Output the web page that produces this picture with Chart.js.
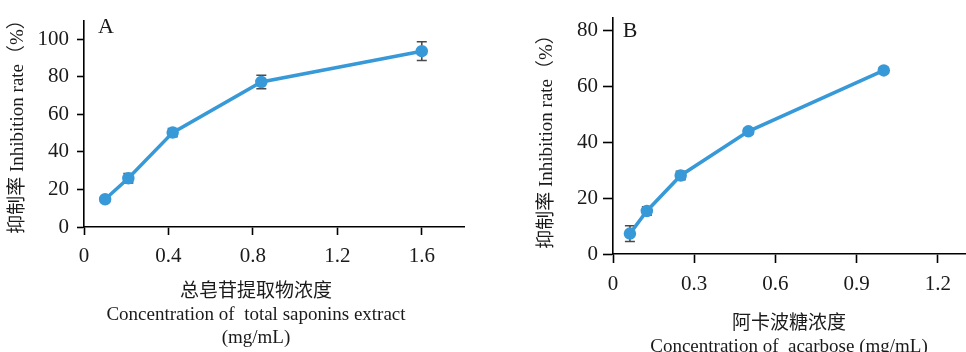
<!DOCTYPE html>
<html>
<head>
<meta charset="utf-8">
<script src="https://cdn.jsdelivr.net/npm/chart.js@4.4.0/dist/chart.umd.min.js"></script>
<style>
  html, body { margin: 0; padding: 0; background: #fff; overflow: hidden; }
  body { width: 966px; height: 352px; position: relative; }
  .panel { position: absolute; top: 0; }
  #wrapA { left: 0; width: 480px; height: 352px; }
  #wrapB { left: 483px; width: 490px; height: 380px; }
</style>
</head>
<body>
<div class="panel" id="wrapA"><canvas id="chartA"></canvas></div>
<div class="panel" id="wrapB"><canvas id="chartB"></canvas></div>
<script>
// Panel A - total saponins extract
const concA = [0.1, 0.21, 0.42, 0.84, 1.6];
const rateA = [14.8, 26, 50.3, 77.3, 93.7];
const errA = [1, 2.5, 2.2, 3.6, 5];
const xTicksA = [0, 0.4, 0.8, 1.2, 1.6];
const yTicksA = [0, 20, 40, 60, 80, 100];

// Panel B - acarbose
const concB = [0.0625, 0.125, 0.25, 0.5, 1.0];
const rateB = [7.3, 15.4, 28.1, 43.9, 65.7];
const errB = [2.8, 1.5, 1.5, 1, 1];
const xTicksB = [0, 0.3, 0.6, 0.9, 1.2];
const yTicksB = [0, 20, 40, 60, 80];

const blue = '#3799d8';
const serif = "'Liberation Serif', 'Noto Sans CJK SC', serif";

// error bars drawn through the chart's scales
const errorBars = {
  id: 'errorBars',
  beforeDatasetsDraw(chart, args, opts) {
    const ctx = chart.ctx;
    const xs = chart.scales.x, ys = chart.scales.y;
    const ds = chart.data.datasets[0];
    ctx.save();
    ctx.strokeStyle = '#4a4a4a';
    ctx.lineWidth = 1.6;
    ds.data.forEach((p, i) => {
      const e = opts.errors[i];
      const x = xs.getPixelForValue(p.x);
      const y1 = ys.getPixelForValue(p.y + e);
      const y2 = ys.getPixelForValue(p.y - e);
      ctx.beginPath();
      ctx.moveTo(x, y1); ctx.lineTo(x, y2);
      ctx.moveTo(x - 5, y1); ctx.lineTo(x + 5, y1);
      ctx.moveTo(x - 5, y2); ctx.lineTo(x + 5, y2);
      ctx.stroke();
    });
    ctx.restore();
  }
};

// panel letter and axis titles
const textLabels = {
  id: 'textLabels',
  afterDraw(chart, args, opts) {
    const ctx = chart.ctx;
    ctx.save();
    ctx.fillStyle = '#1a1a1a';
    ctx.textBaseline = 'middle';
    ctx.textAlign = 'center';
    opts.items.forEach(t => {
      ctx.save();
      ctx.font = (t.size || 19) + 'px ' + serif;
      ctx.translate(t.x, t.y);
      if (t.rotate) ctx.rotate(t.rotate);
      ctx.fillText(t.text, 0, 0);
      ctx.restore();
    });
    ctx.restore();
  }
};

function makeChart(id, cfg) {
  const points = cfg.conc.map((c, i) => ({ x: c, y: cfg.rate[i] }));
  return new Chart(document.getElementById(id), {
    type: 'line',
    data: {
      datasets: [{
        data: points,
        borderColor: blue,
        backgroundColor: blue,
        borderWidth: 3.5,
        pointRadius: 4.5,
        pointHoverRadius: 4.5,
        tension: 0
      }]
    },
    options: {
      responsive: true,
      maintainAspectRatio: false,
      animation: false,
      events: [],
      layout: { padding: cfg.padding },
      plugins: {
        legend: { display: false },
        tooltip: { enabled: false },
        errorBars: { errors: cfg.err },
        textLabels: { items: cfg.texts }
      },
      scales: {
        x: {
          type: 'linear',
          min: 0,
          max: cfg.xMax,
          afterBuildTicks: s => { s.ticks = cfg.xTicks.map(v => ({ value: v })); },
          afterFit: s => { s.height = cfg.xHeight; },
          border: { display: true, color: '#000', width: 1.6 },
          grid: { drawOnChartArea: false, drawTicks: true, tickLength: cfg.tickX, tickColor: '#000', tickWidth: 1.6 },
          ticks: {
            color: '#1a1a1a',
            padding: 9,
            maxRotation: 0,
            font: { family: serif, size: 21 },
            callback: v => String(v)
          }
        },
        y: {
          min: 0,
          max: cfg.yMax,
          afterBuildTicks: s => { s.ticks = cfg.yTicks.map(v => ({ value: v })); },
          afterFit: s => { s.width = cfg.yWidth; },
          border: { display: true, color: '#000', width: 1.6 },
          grid: { drawOnChartArea: false, drawTicks: true, tickLength: cfg.tickY, tickColor: '#000', tickWidth: 1.6 },
          ticks: {
            color: '#1a1a1a',
            padding: cfg.padY,
            font: { family: serif, size: 21 },
            callback: v => String(v)
          }
        }
      }
    },
    plugins: [errorBars, textLabels]
  });
}

makeChart('chartA', {
  conc: concA, rate: rateA, err: errA,
  xTicks: xTicksA, yTicks: yTicksA,
  xMax: 1.8, yMax: 110,
  padding: { top: 10, right: 16, left: 0, bottom: 0 },
  yWidth: 84, xHeight: 125, tickX: 8, tickY: 7, padY: 8,
  texts: [
    { text: 'A', x: 106, y: 27, size: 22 },
    { text: '抑制率 Inhibition rate（%）', x: 18, y: 122, rotate: -Math.PI / 2 },
    { text: '总皂苷提取物浓度', x: 256, y: 292 },
    { text: 'Concentration of  total saponins extract', x: 256, y: 315 },
    { text: '(mg/mL)', x: 256, y: 338 }
  ]
});

makeChart('chartB', {
  conc: concB, rate: rateB, err: errB,
  xTicks: xTicksB, yTicks: yTicksB,
  xMax: 1.3, yMax: 84.6,
  padding: { top: 11, right: 0, left: 0, bottom: 0 },
  yWidth: 130, xHeight: 126, tickX: 9, tickY: 10, padY: 5,
  texts: [
    { text: 'B', x: 147, y: 31, size: 22 },
    { text: '抑制率 Inhibition rate（%）', x: 64, y: 137, rotate: -Math.PI / 2 },
    { text: '阿卡波糖浓度', x: 306, y: 324 },
    { text: 'Concentration of  acarbose (mg/mL)', x: 306, y: 347 }
  ]
});
</script>
</body>
</html>
